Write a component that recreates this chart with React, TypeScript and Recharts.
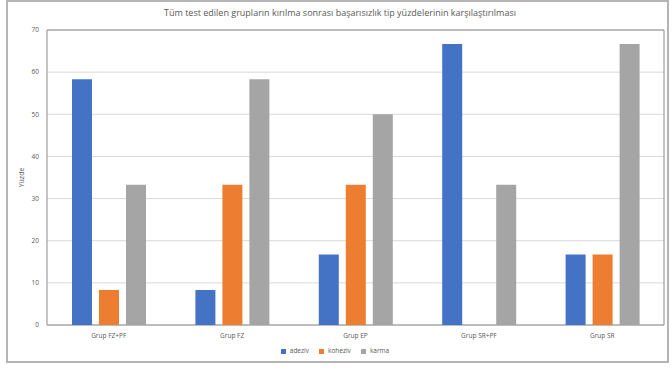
import React from 'react'
import { BarChart, Bar, XAxis, YAxis, CartesianGrid, Legend, ReferenceArea } from 'recharts'

const groups = ['Grup FZ+PF', 'Grup FZ', 'Grup EP', 'Grup SR+PF', 'Grup SR']
const adeziv = [58.3, 8.3, 16.7, 66.7, 16.7]
const koheziv = [8.3, 33.3, 33.3, 0, 16.7]
const karma = [33.3, 58.3, 50, 33.3, 66.7]
const seriesOrder = ['adeziv', 'koheziv', 'karma']
const yTicks = [0, 10, 20, 30, 40, 50, 60, 70]

const data = groups.map((g, i) => ({
    name: g,
    adeziv: adeziv[i],
    koheziv: koheziv[i],
    karma: karma[i],
}))

const textColor = '#595959'
const font = '"Open Sans", sans-serif'

export default function App() {
    return (
        <div style={{ position: 'absolute', left: 0, top: 0, width: 672, height: 371, background: '#fff', fontFamily: font }}>
            <div
                style={{
                    position: 'absolute',
                    left: 6,
                    top: 0,
                    width: 663,
                    height: 363,
                    border: '2px solid #b4b4b4',
                    boxSizing: 'border-box',
                }}
            />
            <div
                style={{
                    position: 'absolute',
                    left: 0,
                    top: 6,
                    width: 680,
                    textAlign: 'center',
                    fontSize: 9,
                    color: textColor,
                }}
            >
                Tüm test edilen grupların kırılma sonrası başarısızlık tip yüzdelerinin karşılaştırılması
            </div>
            <BarChart
                width={672}
                height={371}
                data={data}
                margin={{ top: 30, right: 8, left: 7, bottom: 16 }}
                barSize={20}
                barGap={7}
                style={{ position: 'absolute', left: 0, top: 0 }}
            >
                <CartesianGrid vertical={false} stroke='#d9d9d9' />
                <ReferenceArea x1='Grup FZ+PF' x2='Grup SR' y1={0} y2={70} fill='none' stroke='#8c8c8c' strokeWidth={1} ifOverflow='visible' />
                <XAxis
                    dataKey='name'
                    axisLine={false}
                    tickLine={false}
                    height={30}
                    tick={{ fontSize: 6.5, fill: textColor, fontFamily: font }}
                />
                <YAxis
                    width={40}
                    domain={[0, 70]}
                    ticks={yTicks}
                    axisLine={false}
                    tickLine={false}
                    tick={{ fontSize: 6.5, fill: textColor, fontFamily: font }}
                    label={{ value: 'Yüzde', angle: -90, position: 'center', dx: -5, fontSize: 7, fill: textColor, fontFamily: font }}
                />
                <Legend
                    verticalAlign='middle'
                    align='center'
                    iconType='square'
                    iconSize={5}
                    itemSorter={(item: any) => seriesOrder.indexOf(item.dataKey)}
                    formatter={(value: string) => <span style={{ color: textColor }}>{value}</span>}
                    wrapperStyle={{ top: 346, left: 0, width: 680, fontSize: 6.5, fontFamily: font, lineHeight: '10px' }}
                />
                <Bar dataKey='adeziv' fill='#4472c4' isAnimationActive={false} />
                <Bar dataKey='koheziv' fill='#ed7d31' isAnimationActive={false} />
                <Bar dataKey='karma' fill='#a5a5a5' isAnimationActive={false} />
            </BarChart>
        </div>
    )
}
